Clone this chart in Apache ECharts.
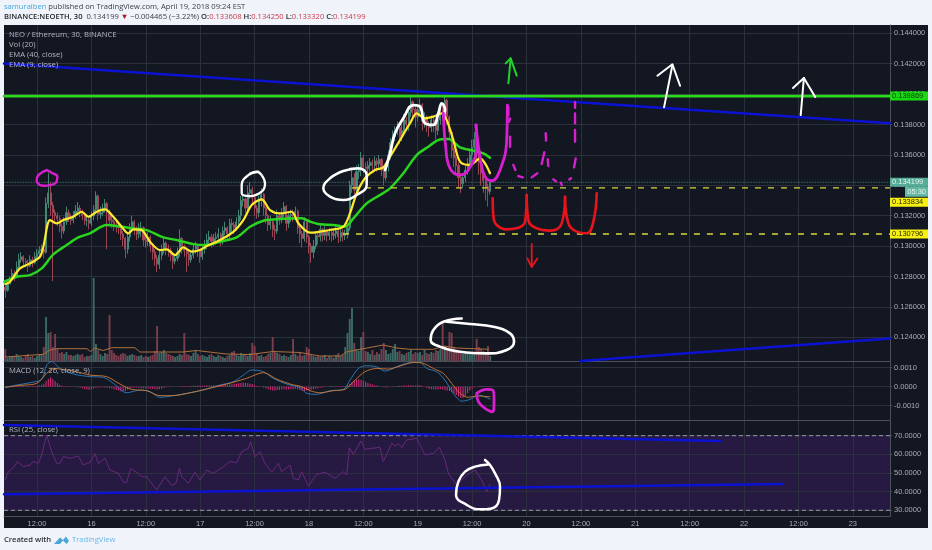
<!DOCTYPE html>
<html><head><meta charset="utf-8">
<style>html,body{margin:0;padding:0;background:#f0f3fa}#c{width:932px;height:550px;filter:blur(.3px)}</style>
<script src="https://cdn.jsdelivr.net/npm/echarts@6/dist/echarts.min.js"></script>
</head><body><div id="c"></div>
<script>
// Time is hours after Apr 15 00:00; prices are in units of 0.0001 ETH; MACD in units of 0.0001.
const firstBarHour = 5, barStep = 0.5;
const timeTicks = [12,24,36,48,60,72,84,96,108,120,132,144,156,168,180,192];
const timeLabels = ['12:00','16','12:00','17','12:00','18','12:00','19','12:00','20','12:00','21','12:00','22','12:00','23'];
const priceTicks = [1240,1260,1280,1300,1320,1340,1360,1380,1400,1420,1440];
const macdTicks = [10,0,-10];
const rsiTicks = [30,40,50,60,70];
const firstOpen = 1273;
const closes = [
1271,1275,1278,1282,1280,1286,1291,1293,1290,1289,
1287,1291,1289,1293,1295,1297,1298,1296,1328,1335,
1327,1322,1320,1318,1313,1310,1316,1322,1319,1317,
1320,1323,1325,1322,1320,1317,1317,1315,1320,1324,
1333,1321,1322,1325,1328,1322,1317,1316,1314,1313,
1312,1308,1305,1298,1306,1312,1316,1311,1308,1312,
1312,1304,1303,1306,1300,1296,1292,1288,1294,1298,
1302,1298,1297,1294,1290,1292,1296,1305,1298,1297,
1295,1291,1294,1298,1300,1297,1293,1298,1300,1304,
1306,1303,1305,1306,1308,1303,1310,1312,1308,1315,
1314,1312,1316,1320,1330,1331,1325,1335,1337,1332,
1325,1322,1330,1334,1325,1320,1314,1316,1311,1310,
1320,1318,1322,1326,1315,1320,1321,1320,1323,1312,
1308,1305,1316,1306,1300,1296,1300,1307,1306,1311,
1307,1310,1307,1309,1307,1308,1310,1306,1309,1307,
1308,1312,1340,1345,1337,1349,1350,1358,1352,1351,
1353,1355,1353,1356,1354,1357,1350,1345,1352,1360,
1368,1372,1375,1378,1372,1376,1383,1380,1388,1395,
1390,1385,1390,1393,1382,1385,1380,1378,1383,1380,
1376,1383,1390,1388,1396,1385,1375,1363,1358,1353,
1345,1341,1345,1350,1354,1360,1365,1370,1362,1355,
1348,1343,1339,1336,1342];
const highs = [
1274,1278,1280,1285,1284,1290,1295,1296,1294,1292,
1291,1294,1293,1296,1298,1300,1301,1300,1332,1348,
1342,1329,1324,1322,1320,1315,1319,1326,1324,1321,
1323,1327,1329,1327,1324,1322,1321,1319,1323,1327,
1336,1334,1326,1328,1331,1329,1324,1320,1318,1317,
1316,1313,1310,1306,1309,1315,1320,1317,1313,1315,
1316,1313,1307,1309,1307,1301,1298,1294,1297,1301,
1305,1303,1301,1299,1296,1295,1299,1311,1306,1301,
1299,1297,1297,1301,1303,1301,1298,1301,1304,1308,
1310,1308,1308,1309,1312,1309,1313,1316,1313,1318,
1318,1316,1319,1324,1333,1335,1332,1340,1342,1339,
1333,1327,1333,1338,1335,1326,1321,1320,1317,1314,
1324,1322,1325,1329,1327,1323,1324,1324,1326,1324,
1314,1310,1319,1317,1307,1302,1304,1310,1310,1314,
1312,1313,1311,1312,1311,1311,1313,1311,1312,1311,
1311,1315,1343,1350,1348,1353,1354,1362,1360,1355,
1356,1358,1357,1359,1358,1360,1358,1352,1355,1363,
1371,1376,1379,1382,1379,1380,1387,1385,1392,1399,
1396,1392,1393,1397,1394,1388,1386,1382,1386,1385,
1381,1386,1393,1392,1399,1397,1386,1376,1365,1360,
1355,1348,1348,1353,1358,1364,1370,1375,1372,1364,
1357,1350,1345,1341,1343];
const lows = [
1266,1270,1275,1278,1277,1280,1285,1289,1287,1286,
1283,1286,1286,1288,1291,1293,1295,1292,1295,1325,
1320,1277,1316,1313,1309,1305,1308,1314,1316,1314,
1315,1318,1321,1319,1317,1314,1313,1311,1313,1317,
1321,1317,1318,1320,1322,1298,1313,1312,1310,1309,
1308,1304,1300,1292,1295,1303,1309,1307,1304,1305,
1306,1300,1299,1300,1296,1291,1287,1283,1285,1291,
1295,1294,1293,1290,1285,1288,1290,1293,1295,1293,
1283,1287,1289,1292,1295,1293,1289,1291,1295,1298,
1301,1299,1300,1301,1303,1300,1301,1307,1304,1305,
1309,1308,1310,1313,1317,1326,1322,1323,1331,1328,
1320,1318,1319,1326,1320,1315,1310,1311,1306,1304,
1308,1314,1315,1319,1310,1312,1316,1316,1317,1308,
1302,1299,1303,1302,1295,1289,1292,1298,1301,1303,
1303,1304,1303,1304,1303,1304,1305,1302,1303,1303,
1304,1305,1310,1335,1332,1335,1344,1346,1348,1346,
1347,1349,1349,1350,1349,1351,1346,1340,1343,1349,
1357,1365,1369,1373,1367,1369,1373,1376,1376,1385,
1384,1378,1382,1386,1376,1378,1375,1372,1375,1375,
1370,1373,1380,1382,1385,1380,1370,1358,1352,1347,
1338,1335,1338,1342,1347,1350,1355,1360,1355,1347,
1340,1335,1330,1326,1334];
const volumes = [
12,3,4,4,5,7,5,4,3,5,
7,4,5,3,5,6,7,14,44,28,
29,14,27,12,8,9,7,9,6,6,
5,6,7,6,7,4,5,5,6,83,
17,11,7,5,8,7,46,11,8,6,
5,7,8,7,5,6,7,6,5,5,
6,4,5,4,5,6,10,35,8,9,
11,8,7,6,5,4,5,7,6,28,
7,6,5,8,11,7,5,6,5,4,
6,7,5,4,6,5,4,3,5,6,
9,10,6,5,8,7,6,5,8,18,
15,7,5,6,4,5,7,8,24,9,
8,7,5,6,5,4,6,22,7,5,
8,5,6,14,12,6,5,4,5,4,
5,6,3,5,4,3,6,8,5,6,
14,28,42,53,18,12,10,24,29,10,
9,7,11,6,9,7,12,18,11,7,
8,12,17,9,10,7,6,8,9,11,
7,9,8,9,6,11,8,7,9,8,
11,10,12,38,15,13,29,28,14,11,
9,8,7,8,9,8,7,9,22,14,
12,10,9,15,5];
const volumeAverage = [[5,4],[13.4,6.7],[14.9,11],[16.3,12.3],[23,12.3],[23.8,9.5],[24.8,13],[26.6,10.5],[28.5,13.3],[33.6,13.3],[34.7,9],[44.3,9],[47.2,10.5],[53.8,7],[59,6.5],[64.1,9.5],[70,8.5],[74.4,5],[78.9,5],[80.3,9],[83.3,11.7],[88.4,16],[91.4,13],[94.3,11.7],[99.5,11.7],[101.7,15],[104.6,13],[108.3,12.3],[111.6,11.7]];
const ema9 = [[5,1275],[6.04,1276.6],[8.25,1285.3],[10.46,1288.6],[12.66,1293],[13.4,1299.6],[14.87,1317.1],[16.34,1314.9],[17.81,1317.1],[20,1319.3],[21.86,1322.6],[23.33,1319.3],[25.17,1322.6],[27,1324.1],[28.84,1319.3],[30.68,1312.7],[32.15,1308.4],[33.26,1311],[35.1,1310.5],[36.93,1302.9],[39.14,1297.4],[40.61,1297.8],[42.45,1294.1],[44.29,1299.1],[46.13,1296.3],[47.96,1297.4],[49.44,1300],[52.38,1304],[55.32,1309.4],[57.53,1317.1],[59.37,1327],[61.57,1330.7],[63.41,1323.7],[65.62,1321.5],[68.19,1322.6],[69.66,1315],[72.24,1308.8],[74.44,1309.5],[76.65,1310.6],[79.59,1312.8],[81.06,1321.6],[82.53,1334.7],[84.37,1344.6],[86.58,1350.1],[88.42,1351.8],[89.89,1358.8],[92.1,1369.8],[94.3,1380.8],[95.77,1387.3],[97.61,1384],[99.45,1385.2],[101.29,1387.3],[102.39,1383],[103.86,1369.8],[105.33,1355.6],[107.54,1353.4],[109.75,1357.7],[111.95,1347.9]];
const ema40 = [[4.8,1276.6],[7.51,1279.8],[10.46,1280.9],[13.03,1285.3],[15.6,1294.5],[18.55,1300.7],[21.12,1305.7],[23.69,1308.4],[27.37,1313.8],[30.68,1312.7],[33.26,1311.6],[36.2,1310.5],[39.87,1305.7],[42.82,1304],[46.5,1301.3],[49.44,1300.7],[52.38,1302.9],[56.06,1305.7],[59,1312.7],[61.94,1316.7],[64.88,1317.6],[67.83,1318.2],[70.4,1318.3],[72.24,1316.1],[74.44,1314.3],[77.39,1313.9],[79.96,1312.8],[81.8,1318.3],[84.74,1328.1],[87.68,1333.6],[89.89,1338],[92.83,1347.9],[95.77,1359.9],[98.35,1365.4],[100.9,1370.2],[102.76,1370.4],[105.33,1365],[108.28,1362.8],[110.48,1361],[111.95,1358.2]];
const macdLine = [[5,-.35],[7.51,.88],[10.46,2.1],[13.03,3.86],[14.13,11.4],[15.24,13.2],[17.07,9.6],[20,6.7],[23.69,5.3],[26.64,4.9],[28.84,1.75],[31.79,-3.2],[34.73,-1.75],[36.93,-2.6],[39.14,-5.6],[42.08,-4.7],[45.02,-3.5],[48.7,-1.75],[52.38,.88],[55.32,2.6],[57.53,6.1],[59.37,8.8],[61.94,7.9],[64.15,4.4],[67.09,1.4],[70.03,-.35],[71.5,-3.5],[73.7,-4],[76.65,-2.1],[79.59,-1.4],[81.06,3.5],[82.9,9.6],[84.74,11],[86.95,10.5],[88.79,8.2],[91.36,10.5],[93.57,12.3],[96.5,12.8],[97.98,9.6],[100.2,7.9],[102,3.5],[103.86,-3.5],[105.7,-7.6],[107.54,-6.7],[109.38,-4.4],[111.95,-6.5]];
const macdSignal = [[5,-.35],[8.25,.7],[11.93,1.75],[14.13,7],[15.6,9.6],[17.81,9.1],[20.75,7.9],[23.69,6.1],[27.37,5.3],[30.31,1.4],[32.89,-1.4],[36.2,-2.1],[39.14,-4.7],[42.08,-4.7],[45.76,-3.2],[49.44,-1.2],[53.85,1.4],[58.26,4.4],[61.94,7.4],[64.88,4],[68.56,.9],[70.03,.35],[72.24,-2.1],[74.44,-3.2],[77.39,-2.1],[79.96,-1.4],[82.17,3.5],[84.37,7.9],[86.95,9.6],[89.52,9.3],[92.1,10.9],[95.04,12.8],[97.24,12.3],[99.45,9.6],[101.66,7],[103.5,1.75],[105.33,-3.5],[107.17,-5.6],[109,-4.9],[111.95,-5.3]];
const macdHist = [
0,0,.1,.2,.3,.3,.4,.5,.5,.4,
.3,.3,.3,.4,.5,.7,1,1.5,3,4,
5,4,3,2,1,.5,.3,.2,.2,.1,
-.1,-.2,-.3,-.5,-.8,-1.2,-1.5,-1.6,-1.5,-1,
-.6,-.4,-.4,-.3,-.4,-.6,-.8,-1,-1.4,-1.8,
-2,-2.4,-2.5,-2.2,-1.6,-1,-.6,-.4,-.4,-.6,
-.8,-.8,-.9,-1,-1,-1.1,-1.3,-1.5,-1.3,-1,
-.6,-.3,-.2,-.1,0,0,.1,.3,.4,.3,
.3,.3,.4,.5,.5,.6,.5,.5,.6,.6,
.6,.7,.7,.8,.9,.9,1,1,1.1,1.2,
1.3,1.5,1.6,1.8,2,2.2,2,1.8,1.6,1.4,
.8,.4,.1,-.2,-.6,-1,-1.4,-1.7,-2,-2.1,
-1.8,-1.7,-1.5,-1.4,-1.6,-1.5,-1.3,-1.2,-1.1,-1.3,
-1.8,-2.2,-2.2,-2,-1.8,-1.6,-1.3,-1.1,-.8,-.6,
-.4,-.3,0,.3,.4,.3,.2,.3,.2,.2,
.3,.8,1.5,2.5,3.2,3.6,3.9,3.6,3.2,2.6,
2,1.6,1.1,.8,.6,.3,.1,-.3,-.5,-.3,
0,.2,.3,.4,.5,.5,.6,.6,.7,.7,
.6,.6,.7,.7,.4,0,-.7,-1.1,-1.3,-1.4,
-1.5,-1.3,-1.2,-1.5,-1.7,-2,-2.2,-2.8,-3.5,-4.4,
-5.2,-5.8,-6,-5,-3.4,-2,-1,-.4,0,.3,
.4,.4,.3,.3,.2];
const rsi = [[5,46.3],[5.67,50.7],[6.78,52.9],[7.66,56.1],[8.98,53.4],[10.46,54.3],[11.19,56.1],[12.3,55.2],[13.03,59.7],[14.13,70.4],[15.24,61.4],[16.34,55.2],[17.07,55.2],[17.81,58.8],[19.28,57.9],[21.12,59.1],[22.22,54.3],[23.69,55.7],[24.8,60.5],[25.53,55.2],[27,57.9],[28.1,51.6],[29.95,49.8],[31.05,45],[31.79,45],[32.67,52.5],[34.36,49.8],[35.1,48],[36.2,48],[38.4,40.9],[40.24,48],[41.71,43.2],[42.67,44.5],[43.41,52.5],[43.92,48],[45.39,44.5],[46.86,50.4],[47.96,46.3],[49.44,51.6],[50.91,49.8],[52.01,51.6],[53.11,53.4],[54.58,56.1],[56.06,55.5],[57.16,61.4],[58.63,63.2],[59.15,66.8],[60.1,58.8],[61.2,61.4],[62.31,55.2],[63.78,50.4],[65.25,55.2],[65.99,50.7],[67.82,54.3],[68.56,47.1],[69.66,46.3],[70.4,50.7],[71.87,43.2],[73.71,49.3],[75.55,50.4],[77.75,47.1],[79.59,50.7],[80.33,48.9],[80.92,63.6],[81.8,60],[83.49,67.2],[84.37,62.7],[85.84,63.2],[87.68,63.8],[88.42,56.1],[90.26,65.9],[91,64.5],[91.73,65.9],[92.46,63.6],[93.57,67.7],[95.77,68.6],[97.61,59.7],[99.45,60.5],[100.77,63.8],[102.02,57],[102.76,49.8],[104.6,43.6],[106.8,48.9],[108.64,51.6],[110.11,46.3],[111.22,40],[111.95,43.9]];
const resistance = 1398.69, nowPrice = 1341.99, upperLevel = 1338.34, lowerLevel = 1307.96;
const trendTop = [[4.72,1420.1],[200.2,1380.8]];
const trendBottom = [[131.8,1224.4],[200.2,1239.2]];
const rsiTrendTop = [[4.72,75.7],[162.7,67.2]];
const rsiTrendBottom = [[4.72,38.6],[176.6,44.1]];
const ovalMagenta = [[14.13,1350],[12.29,1346.7],[11.93,1343],[13.4,1339.7],[15.97,1341.2],[16.49,1345.6],[15.24,1348.3],[14.13,1350]];
const ovalWhitePeak = [[60.84,1348.9],[58.63,1346.7],[57.16,1340.2],[57.16,1334.7],[59,1332.9],[61.57,1335.8],[62.31,1341.2],[61.57,1346.7],[60.47,1348.9],[59,1347.8]];
const ovalWhiteBreak = [[82.9,1351.2],[79.59,1349.4],[76.65,1344.6],[75.18,1338],[76.65,1332.5],[79.59,1330.3],[82.53,1333.6],[84.74,1340.2],[84.74,1346.8],[82.9,1351.2],[81.06,1350.7]];
const whiteTops = [[88.79,1350.1],[89.89,1361],[90.99,1374.2],[92.83,1384.1],[95.04,1392.8],[96.51,1391.7],[97.61,1380.8],[99.45,1379.7],[100.55,1387.4],[101.29,1393.9],[102.02,1389.5],[101.66,1385.2]];
const magentaCupOne = [[101.66,1387.4],[102.17,1365.4],[103.13,1351.2],[105.33,1346.8],[107.17,1350.1],[109.01,1365.4],[108.86,1379.7]];
const magentaCupTwo = [[108.86,1379.7],[109.75,1358.8],[110.85,1345.7],[112.32,1343],[114.16,1350.1],[115.63,1369.8],[115.78,1392.8]];
const magentaDashes = [
 [[116,1391.7],[116,1386.3]],[[116.37,1384],[116.15,1381.9]],[[116.37,1372],[116.37,1365.4]],[[117.1,1353.4],[117.54,1350.1]],
 [[118.2,1346.1],[119.16,1345.2]],[[121.15,1345.2],[122.4,1347.9]],[[123.35,1354],[123.94,1361.7]],[[124.24,1374.2],[124.31,1369.4]],
 [[124.68,1357.1],[124.82,1352.7]],[[125.93,1343.9],[126.52,1342.6]],[[127.62,1341.7],[127.77,1340.2]],[[129.46,1343.9],[129.83,1344.6]],
 [[130.49,1351.8],[130.86,1357.7]],[[130.71,1368.7],[130.71,1376.4]],[[130.71,1380.8],[130.71,1387.3]],[[130.71,1394.6],[130.71,1391]]];
const redCupOne = [[112.54,1331.4],[112.69,1319.4],[113.42,1313.9],[115.63,1311],[117.84,1311.7],[119.68,1316.1],[120.05,1333.6]];
const redCupTwo = [[120.05,1333.6],[120.41,1317.2],[122.25,1311.7],[125.19,1310.2],[127.77,1315],[128.5,1332.5]];
const redCupThree = [[128.5,1332.5],[129.24,1315],[131.08,1309.5],[133.28,1308.4],[134.75,1316.1],[135.49,1334.7]];
const redArrowShaft = [[121.15,1301.4],[121.15,1286.5]];
const redArrowHead = [[120.19,1291.9],[121.15,1286.2],[122.4,1291.9]];
const greenArrowShaft = [[116,1407.1],[116.5,1423.5]];
const greenArrowHead = [[115.4,1420.2],[116.5,1423.5],[117.84,1412.1]];
const whiteArrowOneShaft = [[150.35,1391.3],[152.19,1419.1]];
const whiteArrowOneHead = [[148.88,1412.1],[152.19,1419.6],[153.88,1405.5]];
const whiteArrowTwoShaft = [[180.5,1386.2],[181.2,1410.6]];
const whiteArrowTwoHead = [[178.8,1404],[181.2,1410.6],[183.7,1398.1]];
const ovalVolume = [[105.7,1252.4],[101.66,1250.2],[99.45,1244.8],[98.86,1238.2],[100.92,1233.8],[105.33,1230.5],[111.22,1229.4],[115.63,1231.6],[117.25,1237.1],[116.37,1242.6],[112.69,1247],[107.54,1248.7],[102.39,1250.2]];
const loopMacd = [[109,-3.5],[111.22,-1.4],[112.54,-1.75],[112.84,-7],[112.54,-13.2],[110.85,-11.4],[109.38,-7.9],[109,-3.5]];
const circleRsi = [[110.85,57],[111.95,54.3],[113.06,49.8],[114.16,42.7],[113.94,35.5],[112.32,31],[109.75,30.5],[106.8,32.9],[104.45,38.2],[104.97,45.4],[106.44,50.7],[108.64,53.4],[111.59,54.6]];
const headerName = 'samuraiben';
const headerRest = ' published on TradingView.com, April 19, 2018 09:24 EST';
const paneMainLabels = ['NEO / Ethereum, 30, BINANCE','Vol (20)','EMA (40, close)','EMA (9, close)'];

const GRID='#2c303c', AXIS='#4c505c', TXT='#a9acb6', UP='#478d79', DOWN='#a94a5a', VUP='#3c6a64', VDOWN='#7c3e4e';
const MAG='#d81fd0', WHITE='#ffffff', RED='#e8141c', BLUE='#0b12d2', LIME='#2bd81d';
const AF='"Liberation Sans",Arial,sans-serif', UF='"Open Sans",sans-serif';
const hour = i => firstBarHour + i*barStep;
const opens = closes.map((c,i)=> i ? closes[i-1] : firstOpen);
const candleData = closes.map((c,i)=>[hour(i),opens[i],c,lows[i],highs[i]]);
const volumeData = volumes.map((v,i)=>({value:[hour(i),v],itemStyle:{color:closes[i]>=opens[i]?VUP:VDOWN}}));
const histData = macdHist.map((v,i)=>[hour(i),v]);

const vLines = timeTicks.map(t=>({xAxis:t}));
const gridLines = ticks => ({silent:true,symbol:'none',z:0,animation:false,label:{show:false},
  lineStyle:{color:GRID,width:1,type:'solid'},data:vLines.concat(ticks.map(v=>({yAxis:v})))});
const tag = (fmt,bg,col,off)=>({show:true,formatter:fmt,backgroundColor:bg,color:col,fontFamily:AF,fontSize:7.5,
  width:34,height:9,lineHeight:9,padding:[0,2],align:'left',distance:0,offset:off||[0,0]});
const pen = (name,data,color,w,x,y,smooth,z)=>({name,type:'line',xAxisIndex:x||0,yAxisIndex:y||0,data,symbol:'none',
  smooth:smooth===undefined?0.45:smooth,lineStyle:{color,width:w,cap:'round',join:'round'},z:z||8,silent:true});

const series = [
 Object.assign(pen('trendTop',trendTop,BLUE,2.5,0,0,false,3),{markLine:gridLines(priceTicks)}),
 pen('trendBottom',trendBottom,BLUE,2.5,0,0,false,3),
 {name:'Vol',type:'bar',xAxisIndex:0,yAxisIndex:1,data:volumeData,barWidth:1.9,z:2,silent:true},
 Object.assign(pen('VolMA',volumeAverage,'#b0703c',1,0,1,false,3)),
 {name:'NEOETH',type:'candlestick',xAxisIndex:0,yAxisIndex:0,data:candleData,barWidth:1.6,z:4,silent:true,
  itemStyle:{color:UP,color0:DOWN,borderColor:UP,borderColor0:DOWN,borderWidth:.9}},
 pen('EMA40',ema40,'#2bd41f',2.5,0,0,0.3,5),
 pen('EMA9',ema9,'#ffeb2e',2.2,0,0,0.3,6),
 Object.assign(pen('resistance',[[4.72,resistance],[200.2,resistance]],LIME,2.8,0,0,false,7),
   {endLabel:tag('0.139869','#18d912','#123a10')}),
 Object.assign(pen('last',[[4.72,nowPrice],[200.2,nowPrice]],'#4d8f82',.8,0,0,false,3),
   {lineStyle:{color:'#4d8f82',width:.8,type:'dotted'},
    endLabel:{show:true,distance:0,offset:[0,5],formatter:'{a|0.134199}\n{b|05:30}',
     rich:{a:{backgroundColor:'#55ad97',color:'#e8f2ef',fontFamily:AF,fontSize:7.5,width:34,height:9,lineHeight:9,padding:[0,2],align:'left'},
           b:{backgroundColor:'#63b8a2',color:'#e8f2ef',fontFamily:AF,fontSize:7.5,width:19,height:10,lineHeight:10,padding:[0,2],align:'right'}}}}),
 Object.assign(pen('upper',[[81.5,upperLevel],[200.2,upperLevel]],'#e4e23a',1.3,0,0,false,7),
   {lineStyle:{color:'#d9d83c',width:1.3,type:[6,7]},endLabel:tag('0.133834','#f6ef10','#2a2a08',[0,14.5])}),
 Object.assign(pen('lower',[[79.5,lowerLevel],[200.2,lowerLevel]],'#e4e23a',1.3,0,0,false,7),
   {lineStyle:{color:'#d9d83c',width:1.3,type:[6,7]},endLabel:tag('0.130796','#f6ef10','#2a2a08')}),
 // MACD pane
 {name:'MACD hist',type:'bar',xAxisIndex:1,yAxisIndex:2,data:histData,barWidth:1.1,z:2,silent:true,itemStyle:{color:'#cf2a78'}},
 Object.assign(pen('MACD',macdLine,'#2f7fc4',.9,1,2,0.3,3),{markLine:gridLines(macdTicks)}),
 pen('Signal',macdSignal,'#d27a32',.9,1,2,0.3,4),
 pen('loopMacd',loopMacd,MAG,2.8,1,2,0.45,8),
 // RSI pane
 Object.assign(pen('RSI',rsi,'#6e2a80',.9,2,3,false,4),{
   markArea:{silent:true,z:0,itemStyle:{color:'#261a42'},data:[[{yAxis:70},{yAxis:30}]]},
   markLine:gridLines(rsiTicks)}),
 Object.assign(pen('rsi70',[[4.72,70],[200.2,70]],'#a9a6b4',1,2,3,false,2),{lineStyle:{color:'#a9a6b4',width:.9,type:[4,3]}}),
 Object.assign(pen('rsi30',[[4.72,30],[200.2,30]],'#a9a6b4',1,2,3,false,2),{lineStyle:{color:'#a9a6b4',width:.9,type:[4,3]}}),
 pen('rsiTrendTop',rsiTrendTop,BLUE,2.5,2,3,false,5),
 pen('rsiTrendBottom',rsiTrendBottom,BLUE,2.5,2,3,false,5),
 pen('circleRsi',circleRsi,WHITE,2.5,2,3,0.45,8),
 // Hand drawn marks in the price pane
 pen('ovalMagenta',ovalMagenta,MAG,2.4),
 pen('ovalWhitePeak',ovalWhitePeak,WHITE,2.3),
 pen('ovalWhiteBreak',ovalWhiteBreak,WHITE,2.5),
 pen('whiteTops',whiteTops,WHITE,2.8),
 pen('magentaCupOne',magentaCupOne,MAG,2.8),
 pen('magentaCupTwo',magentaCupTwo,MAG,2.8),
 pen('redCupOne',redCupOne,RED,2.6),
 pen('redCupTwo',redCupTwo,RED,2.6),
 pen('redCupThree',redCupThree,RED,2.6),
 pen('redArrowShaft',redArrowShaft,RED,1.8,0,0,false),
 pen('redArrowHead',redArrowHead,RED,1.8,0,0,false),
 pen('greenArrowShaft',greenArrowShaft,'#22d42a',2,0,0,false),
 pen('greenArrowHead',greenArrowHead,'#22d42a',2,0,0,false),
 pen('whiteArrowOneShaft',whiteArrowOneShaft,WHITE,2,0,0,false),
 pen('whiteArrowOneHead',whiteArrowOneHead,WHITE,2,0,0,false),
 pen('whiteArrowTwoShaft',whiteArrowTwoShaft,WHITE,2,0,0,false),
 pen('whiteArrowTwoHead',whiteArrowTwoHead,WHITE,2,0,0,false),
 pen('ovalVolume',ovalVolume,WHITE,2.6),
 ...magentaDashes.map((d,i)=>pen('magentaDash'+i,d,MAG,2.4,0,0,false))
];

const xCommon = {type:'value',min:4.72,max:200.2,splitLine:{show:false},axisLine:{show:true,onZero:false,lineStyle:{color:AXIS,width:1}},axisTick:{show:false}};
const yCommon = {type:'value',position:'right',splitLine:{show:false},axisLine:{show:true,lineStyle:{color:AXIS,width:1}},
  axisTick:{show:true,length:2,lineStyle:{color:AXIS}}};
const yLabel = f=>({show:true,margin:4,color:TXT,fontFamily:AF,fontSize:7.5,formatter:f,showMinLabel:true,showMaxLabel:true});

const option = {
 animation:false,
 backgroundColor:'#f0f3fa',
 graphic:[
  {type:'rect',z:-10,silent:true,shape:{x:4,y:25,width:924,height:503},style:{fill:'#131722'}},
  {type:'text',left:4,top:2.5,z:20,style:{text:'{n|'+headerName+'}{r|'+headerRest+'}',rich:{
     n:{fontFamily:UF,fontSize:7.6,fill:'#46a9de'},r:{fontFamily:UF,fontSize:7.6,fill:'#3c4048'}}}},
  {type:'text',left:4,top:12.5,z:20,style:{
     text:'{b|BINANCE:NEOETH, 30}{r|  0.134199 }{t|▼}{r| −0.004465 (−3.22%) }{b|O:}{v|0.133608}{b| H:}{v|0.134250}{b| L:}{v|0.133320}{b| C:}{v|0.134199}',
     rich:{b:{fontFamily:UF,fontSize:7.6,fontWeight:600,fill:'#24272e'},r:{fontFamily:UF,fontSize:7.6,fill:'#3c4048'},
           v:{fontFamily:UF,fontSize:7.6,fill:'#c93a4c'},t:{fontFamily:UF,fontSize:7.6,fill:'#a51522'}}}},
  ...paneMainLabels.map((t,i)=>({type:'text',left:9,top:31+i*9.9,z:20,style:{text:t,fontFamily:UF,fontSize:7.7,fill:'#b4b7c0'}})),
  {type:'text',left:9,top:367,z:20,style:{text:'MACD (12, 26, close, 9)',fontFamily:UF,fontSize:7.7,fill:'#b4b7c0'}},
  {type:'text',left:9,top:426,z:20,style:{text:'RSI (25, close)',fontFamily:UF,fontSize:7.7,fill:'#b4b7c0'}},
  {type:'text',left:4,top:535.5,z:20,style:{text:'Created with',fontFamily:UF,fontSize:7.6,fill:'#2c3038',fontWeight:600}},
  {type:'polygon',z:20,silent:true,shape:{points:[[54,544],[60,537.5],[63,540],[66,536.5],[69,541],[66.5,544],[63,540.5],[60,544]]},style:{fill:'#4aa8d8'}},
  {type:'text',left:72,top:535.5,z:20,style:{text:'TradingView',fontFamily:UF,fontSize:7.6,fill:'#6ab7e6'}}
 ],
 grid:[
  {left:4,right:42,top:25,height:336},
  {left:4,right:42,top:361,height:59},
  {left:4,right:42,top:420,height:96}
 ],
 xAxis:[
  Object.assign({},xCommon,{gridIndex:0,axisLabel:{show:false}}),
  Object.assign({},xCommon,{gridIndex:1,axisLabel:{show:false}}),
  Object.assign({},xCommon,{gridIndex:2,axisLabel:{show:true,margin:3.5,color:TXT,fontFamily:AF,fontSize:7.5,hideOverlap:false,
     customValues:timeTicks,showMinLabel:true,showMaxLabel:true,
     formatter:v=>{const k=timeTicks.indexOf(v);return k<0?'':timeLabels[k];}}})
 ],
 yAxis:[
  Object.assign({},yCommon,{gridIndex:0,min:1224.4,max:1445.46,axisTick:{show:true,length:2,lineStyle:{color:AXIS},customValues:priceTicks},
    axisLabel:Object.assign(yLabel(v=>(v/1e4).toFixed(6)),{customValues:priceTicks})}),
  {type:'value',gridIndex:0,min:0,max:336,show:false,position:'left'},
  Object.assign({},yCommon,{gridIndex:1,min:-17.53,max:13.53,axisTick:{show:true,length:2,lineStyle:{color:AXIS},customValues:macdTicks},
    axisLabel:Object.assign(yLabel(v=>(v/1e4).toFixed(4)),{customValues:macdTicks})}),
  Object.assign({},yCommon,{gridIndex:2,min:26.94,max:78.42,axisTick:{show:true,length:2,lineStyle:{color:AXIS},customValues:rsiTicks},
    axisLabel:Object.assign(yLabel(v=>v.toFixed(4)),{customValues:rsiTicks})})
 ],
 series
};
const chart = echarts.init(document.getElementById('c'),null,{renderer:'canvas'});
chart.setOption(option);
</script></body></html>
